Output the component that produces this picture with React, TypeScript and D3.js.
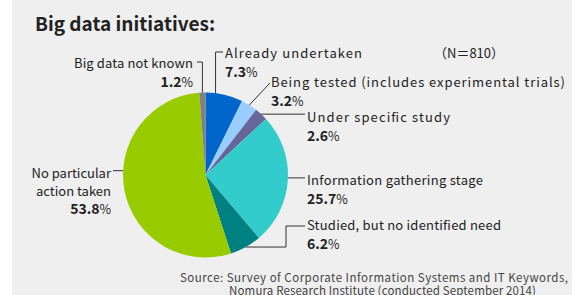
import React from 'react';
import * as d3 from 'd3';

// Survey results, N=810 (share of respondents, %)
const categories = [
  "Already undertaken",
  "Being tested (includes experimental trials)",
  "Under specific study",
  "Information gathering stage",
  "Studied, but no identified need",
  "No particular action taken",
  "Big data not known",
];
const shares = [7.3, 3.2, 2.6, 25.7, 6.2, 53.8, 1.2];
const sliceColors = ["#0066cc", "#99ccff", "#666699", "#33cccc", "#008080", "#99cc00", "#808080"];

const title = "Big data initiatives:";
const sampleNote = "（N＝810）";
const sourceLines = [
  "Source: Survey of Corporate Information Systems and IT Keywords,",
  "Nomura Research Institute (conducted September 2014)",
];

const W = 579;
const H = 295;
const cx = 205.5;
const cy = 175;
const R = 82.5;
const FONT = "'Noto Sans CJK JP', 'Noto Sans', sans-serif";

// label placement per slice: anchor angle on the rim (deg, null = slice middle),
// elbow points of the leader line (-1 = keep previous coordinate), text position,
// and the width the first text line spans in the original
type LabelLayout = {
  anchorDeg: number | null;
  via: [number, number][];
  tx: number;
  ty: number;
  align: 'start' | 'end';
  width?: number;
  lines?: string[];
};
const layout: LabelLayout[] = [
  { anchorDeg: 7, via: [[-1, 52], [223, 52]], tx: 225, ty: 58, align: 'start', width: 137 },
  { anchorDeg: null, via: [[270, 83]], tx: 271, ty: 87, align: 'start', width: 294 },
  { anchorDeg: null, via: [[305, -1]], tx: 307, ty: 122, align: 'start', width: 143 },
  { anchorDeg: 92, via: [[305, -1]], tx: 307, ty: 185, align: 'start', width: 176 },
  { anchorDeg: null, via: [[286, -1], [286, 226], [305, 226]], tx: 307, ty: 230, align: 'start', width: 194 },
  { anchorDeg: 273, via: [[113, -1]], tx: 111, ty: 178, align: 'end', lines: ["No particular", "action taken"] },
  { anchorDeg: null, via: [[-1, 62], [197, 62]], tx: 193, ty: 68, align: 'end', width: 119 },
];

const App: React.FC = () => {
  const pie = d3.pie<number>().sort(null).value(d => d)(shares);
  const arc = d3.arc<d3.PieArcDatum<number>>().innerRadius(0).outerRadius(R);

  return (
    <svg width={W} height={H} style={{ position: 'absolute', left: 0, top: 0, display: 'block' }}
      fontFamily={FONT}>
      <rect x={0} y={0} width={W} height={H} fill="#fff" />
      <rect x={12} y={0} width={560} height={H} fill="#efefef" />

      <text x={35} y={31} fontSize={19} fontWeight={700} fill="#222">{title}</text>
      <text x={434} y={58} fontSize={13} fill="#222">{sampleNote}</text>

      <g transform={`translate(${cx},${cy})`}>
        {pie.map((d, i) => (
          <path key={i} d={arc(d) || ''} fill={sliceColors[i]} />
        ))}
      </g>

      {pie.map((d, i) => {
        const L = layout[i];
        const a = L.anchorDeg !== null ? (L.anchorDeg * Math.PI) / 180 : (d.startAngle + d.endAngle) / 2;
        const px = cx + R * Math.sin(a);
        const py = cy - R * Math.cos(a);
        const pts: [number, number][] = [[px, py]];
        L.via.forEach(([vx, vy]) => {
          const prev = pts[pts.length - 1];
          pts.push([vx < 0 ? prev[0] : vx, vy < 0 ? prev[1] : vy]);
        });
        const lines = L.lines || [categories[i]];
        return (
          <g key={i}>
            <path d={d3.line()(pts) || ''} fill="none" stroke="#333" strokeWidth={1} />
            {lines.map((ln, j) => (
              <text key={j} x={L.tx} y={L.ty + j * 17.5} fontSize={13} fill="#222" textAnchor={L.align}
                textLength={j === 0 && L.width ? L.width : undefined}
                lengthAdjust="spacing">{ln}</text>
            ))}
            <text x={L.tx} y={L.ty + lines.length * 17.5 + 1} fontSize={14} fontWeight={700} fill="#222"
              textAnchor={L.align}>
              {d.data.toFixed(1)}
              <tspan fontWeight={400} fontSize={12.5}>%</tspan>
            </text>
          </g>
        );
      })}

      <text x={180} y={282} fontSize={11.5} fill="#444" textLength={388} lengthAdjust="spacing">{sourceLines[0]}</text>
      <text x={229} y={294.5} fontSize={11.5} fill="#444" textLength={307} lengthAdjust="spacing">{sourceLines[1]}</text>
    </svg>
  );
};

export default App;
